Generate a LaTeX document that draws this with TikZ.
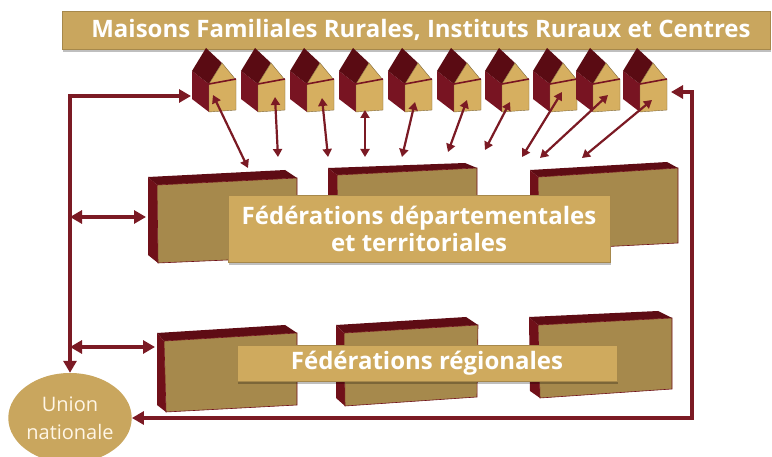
\documentclass[tikz,border=0pt]{standalone}
\usepackage{fontspec}
\setmainfont{Open Sans}
\usetikzlibrary{arrows.meta,shadows,shapes.geometric}
\definecolor{maroon}{HTML}{7B1A24}
\definecolor{tanband}{HTML}{C9A65E}
\definecolor{tanlabel}{HTML}{CFAA5E}
\definecolor{boxfront}{HTML}{A6894C}
\definecolor{boxtop}{HTML}{5E0C14}
\definecolor{boxside}{HTML}{701019}
\definecolor{hroof}{HTML}{5A0B13}
\definecolor{hwall}{HTML}{781422}
\definecolor{hfront}{HTML}{D6AF60}
\definecolor{cream}{HTML}{FFF6E6}
\tikzset{
  bigarrow/.style={draw=maroon, line width=3.5pt, {Triangle[length=12pt,width=13pt]}-{Triangle[length=12pt,width=13pt]}},
  smallarrow/.style={draw=maroon, line width=2.2pt, {Triangle[length=8pt,width=9pt]}-{Triangle[length=8pt,width=9pt]}},
  labelbox/.style={fill=tanlabel, draw=tanlabel!80!black, line width=0.4pt, text=white, font=\bfseries, align=center, inner sep=0pt,
     drop shadow={shadow xshift=1pt,shadow yshift=-3pt,fill=black,opacity=0.25}},
  bxtop/.style={fill=boxtop},
  bxside/.style={fill=boxside},
  bxfront/.style={fill=boxfront, draw=boxside, line width=0.6pt},
}
\newcommand\mfrbox[7]{%
  \fill[bxtop] #1 -- #2 -- #3 -- #4 -- cycle;
  \fill[bxside] #1 -- #4 -- #5 -- #7 -- cycle;
  \filldraw[bxfront] #4 -- #3 -- #6 -- #5 -- cycle;}
\begin{document}
\begin{tikzpicture}[x=1pt,y=-1pt]
\useasboundingbox (0,0) rectangle (772,457);
\fill[white] (0,0) rectangle (772,457);

% title banner
\node[labelbox, fill=tanband, minimum width=708pt, minimum height=38pt] (title) at (416,30) {};
\node[text=white, font=\bfseries\fontsize{24}{27}\selectfont, inner sep=0pt] (titletext) at (421,30) {Maisons Familiales Rurales, Instituts Ruraux et Centres};

% houses
\foreach \x [count=\i] in {192,241,290,339,388,437,485,533,576,623} {
  \begin{scope}[shift={(\x,48)}]
    \fill[hwall] (0,23) -- (17,36) -- (17,64) -- (0,51) -- cycle;
    \fill[hroof] (14,0) -- (30,15) -- (17,36) -- (0,23) -- cycle;
    \filldraw[fill=hfront, draw=hfront!60!black, line width=0.4pt] (17,64) -- (17,36) -- (30,15) -- (44,32) -- (44,62) -- cycle;
    \draw[hwall, line width=1.6pt] (12,37) -- (17,36) -- (44,31);
  \end{scope}
}

% departmental federation boxes
\mfrbox{(148,177)}{(285,170)}{(297,178)}{(157,185)}{(158,263)}{(297,257)}{(148,255)}
\mfrbox{(328,168)}{(465,163)}{(477,168)}{(337,175)}{(338,250)}{(477,245)}{(328,243)}
\mfrbox{(530,170)}{(667,162)}{(678,168)}{(538,177)}{(539,250)}{(678,243)}{(530,244)}

% regional federation boxes
\mfrbox{(157,333)}{(285,325)}{(297,333)}{(164,341)}{(166,412)}{(297,405)}{(157,405)}
\mfrbox{(336,325)}{(466,317)}{(478,325)}{(344,333)}{(345,406)}{(477,397)}{(336,398)}
\mfrbox{(529,317)}{(658,311)}{(672,318)}{(538,325)}{(540,398)}{(672,389)}{(530,391)}

% labels
\node[labelbox, minimum width=382pt, minimum height=67pt, font=\bfseries\fontsize{24}{27}\selectfont] (fdl) at (419,228.5) {Fédérations départementales\\et territoriales};
\node[labelbox, minimum width=380pt, minimum height=36pt, font=\bfseries\fontsize{24}{26}\selectfont] (frl) at (427,363) {Fédérations régionales};

% union nationale
\node[ellipse, fill=tanband, minimum width=118pt, minimum height=90pt, inner sep=0pt, text=cream, align=center,
      font=\fontsize{20}{28}\selectfont] (un) at (70,418) {Union\\nationale};

% coordinates
\coordinate (tl) at (70,96);
\coordinate (h1w) at (191,96);
\coordinate (bus1) at (70,217);
\coordinate (bus2) at (70,347);
\coordinate (d1w) at (146,217);
\coordinate (r1w) at (155,347);
\coordinate (h10e) at (671,92);
\coordinate (tr) at (692,92);
\coordinate (br) at (692,418);

\foreach \i/\ax/\ay/\bx/\by in {1/213/95/248/168, 2/275/97/278/157, 3/322/98/328/157, 4/365/110/365/157,
    5/415/102/402/157, 6/467/100/448/152, 7/510/102/485/150, 8/562/92/522/157, 9/608/95/540/158, 10/652/100/582/158} {
  \coordinate (ha\i) at (\ax,\ay);
  \coordinate (hb\i) at (\bx,\by);
}
\foreach \i in {1,...,10} { \draw[smallarrow] (ha\i) -- (hb\i); }

% big connectors
\draw[bigarrow] (un.north) -- (tl) -- (h1w);
\draw[bigarrow] (bus1) -- (d1w);
\draw[bigarrow] (bus2) -- (r1w);
\draw[bigarrow] (h10e) -- (tr) -- (br) -- (un.east);
\end{tikzpicture}
\end{document}
